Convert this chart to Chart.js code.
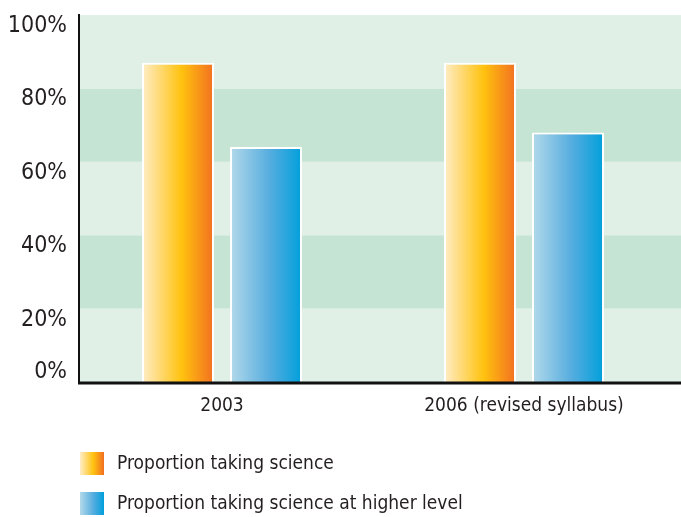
<!DOCTYPE html>
<html>
<head>
<meta charset="utf-8">
<script src="https://cdn.jsdelivr.net/npm/chart.js@4/dist/chart.umd.min.js"></script>
<style>
  html, body { margin: 0; padding: 0; background: #fff; }
  #wrap { width: 681px; height: 517px; position: relative; }
</style>
</head>
<body>
<div id="wrap"><canvas id="chart"></canvas></div>
<script>
// Chart data
const categories = ['2003', '2006 (revised syllabus)'];
const seriesNames = ['Proportion taking science', 'Proportion taking science at higher level'];
const takingScience = [87, 87];
const higherLevel = [64, 68];
const yTicks = [0, 20, 40, 60, 80, 100];

const FONT = '"Liberation Sans Narrow", "DejaVu Sans Condensed", sans-serif';
const TEXT = '#231f20';
const AXIS_X = 79;   // where the vertical axis line sits

// gradient stops for each series (left -> right)
const stops = [
    ['#ffedc8', '#ffc20e', '#f26f21'],
    ['#b3d9ea', '#56addf', '#009fdb']
];

const CAT_PCT = 0.583;
const BAR_PCT = 0.818;

function barGradient(ctx) {
    const chart = ctx.chart;
    const x = chart.scales.x;
    const s = stops[ctx.datasetIndex || 0];
    if (!x || ctx.dataIndex === undefined || !isFinite(x.width) || !x.width) return s[1];
    const catW = x.width / categories.length;
    const slot = catW * CAT_PCT / seriesNames.length;
    const left = x.getPixelForValue(ctx.dataIndex) - catW * CAT_PCT / 2 +
        ctx.datasetIndex * slot + slot * (1 - BAR_PCT) / 2;
    const w = slot * BAR_PCT;
    if (!isFinite(left) || !isFinite(w)) return s[1];
    const g = chart.ctx.createLinearGradient(left, 0, left + w, 0);
    g.addColorStop(0, s[0]);
    g.addColorStop(0.55, s[1]);
    g.addColorStop(1, s[2]);
    return g;
}

// striped background bands
const bands = {
    id: 'bands',
    beforeDraw(chart) {
        const { ctx, scales } = chart;
        const y = scales.y;
        for (let i = 0; i < yTicks.length - 1; i++) {
            const top = y.getPixelForValue(yTicks[i + 1]);
            const bottom = y.getPixelForValue(yTicks[i]);
            ctx.fillStyle = i % 2 === 1 ? '#c6e4d3' : '#e1f0e7';
            ctx.fillRect(AXIS_X, top, chart.width - AXIS_X, bottom - top);
        }
    }
};

// axis lines
const axisLines = {
    id: 'axisLines',
    afterDatasetsDraw(chart) {
        const { ctx, chartArea } = chart;
        ctx.save();
        ctx.strokeStyle = '#111';
        ctx.lineWidth = 2;
        ctx.beginPath();
        ctx.moveTo(AXIS_X, chartArea.top - 1);
        ctx.lineTo(AXIS_X, chartArea.bottom + 2);
        ctx.stroke();
        ctx.lineWidth = 3;
        ctx.beginPath();
        ctx.moveTo(AXIS_X - 1, chartArea.bottom + 1);
        ctx.lineTo(chart.width, chartArea.bottom + 1);
        ctx.stroke();
        ctx.restore();
    }
};

// legend stacked at the bottom left
const stackedLegend = {
    id: 'stackedLegend',
    afterDraw(chart) {
        const ctx = chart.ctx;
        ctx.save();
        chart.data.datasets.forEach((ds, i) => {
            const bx = 80, by = 452 + i * 40, bw = 24, bh = 23;
            const g = ctx.createLinearGradient(bx, 0, bx + bw, 0);
            g.addColorStop(0, stops[i][0]);
            g.addColorStop(0.55, stops[i][1]);
            g.addColorStop(1, stops[i][2]);
            ctx.fillStyle = g;
            ctx.fillRect(bx, by, bw, bh);
            ctx.fillStyle = TEXT;
            ctx.font = '19px ' + FONT;
            ctx.textBaseline = 'middle';
            ctx.textAlign = 'left';
            ctx.fillText(ds.label, 117, by + bh / 2 + 1);
        });
        ctx.restore();
    }
};

const barStyle = {
    backgroundColor: barGradient,
    borderColor: '#ffffff',
    borderWidth: 2,
    categoryPercentage: CAT_PCT,
    barPercentage: BAR_PCT
};

new Chart(document.getElementById('chart'), {
    type: 'bar',
    data: {
        labels: categories,
        datasets: [
            Object.assign({ label: seriesNames[0], data: takingScience }, barStyle),
            Object.assign({ label: seriesNames[1], data: higherLevel }, barStyle)
        ]
    },
    options: {
        responsive: true,
        maintainAspectRatio: false,
        animation: false,
        layout: { padding: { top: 15, right: 6, bottom: 95, left: 0 } },
        plugins: {
            legend: { display: false },
            tooltip: { enabled: false }
        },
        scales: {
            x: {
                grid: { display: false, drawTicks: false },
                border: { display: false },
                ticks: { color: TEXT, font: { family: FONT, size: 19 }, padding: 13 },
                afterFit(scale) {
                    scale.height = 40;
                    scale.paddingLeft = 0;
                    scale.paddingRight = 0;
                }
            },
            y: {
                min: 0,
                max: 100,
                grid: { display: false, drawTicks: false },
                border: { display: false },
                afterBuildTicks(scale) { scale.ticks = yTicks.map(v => ({ value: v })); },
                afterFit(scale) {
                    scale.width = 71;
                    scale.paddingTop = 0;
                    scale.paddingBottom = 0;
                },
                ticks: {
                    color: TEXT,
                    padding: 4,
                    labelOffset: 11,
                    autoSkip: false,
                    font: { family: FONT, size: 23, lineHeight: 0.92 },
                    callback: v => v === 0 ? ['0%', '', ''] : v + '%'
                }
            }
        }
    },
    plugins: [bands, axisLines, stackedLegend]
});
</script>
</body>
</html>
